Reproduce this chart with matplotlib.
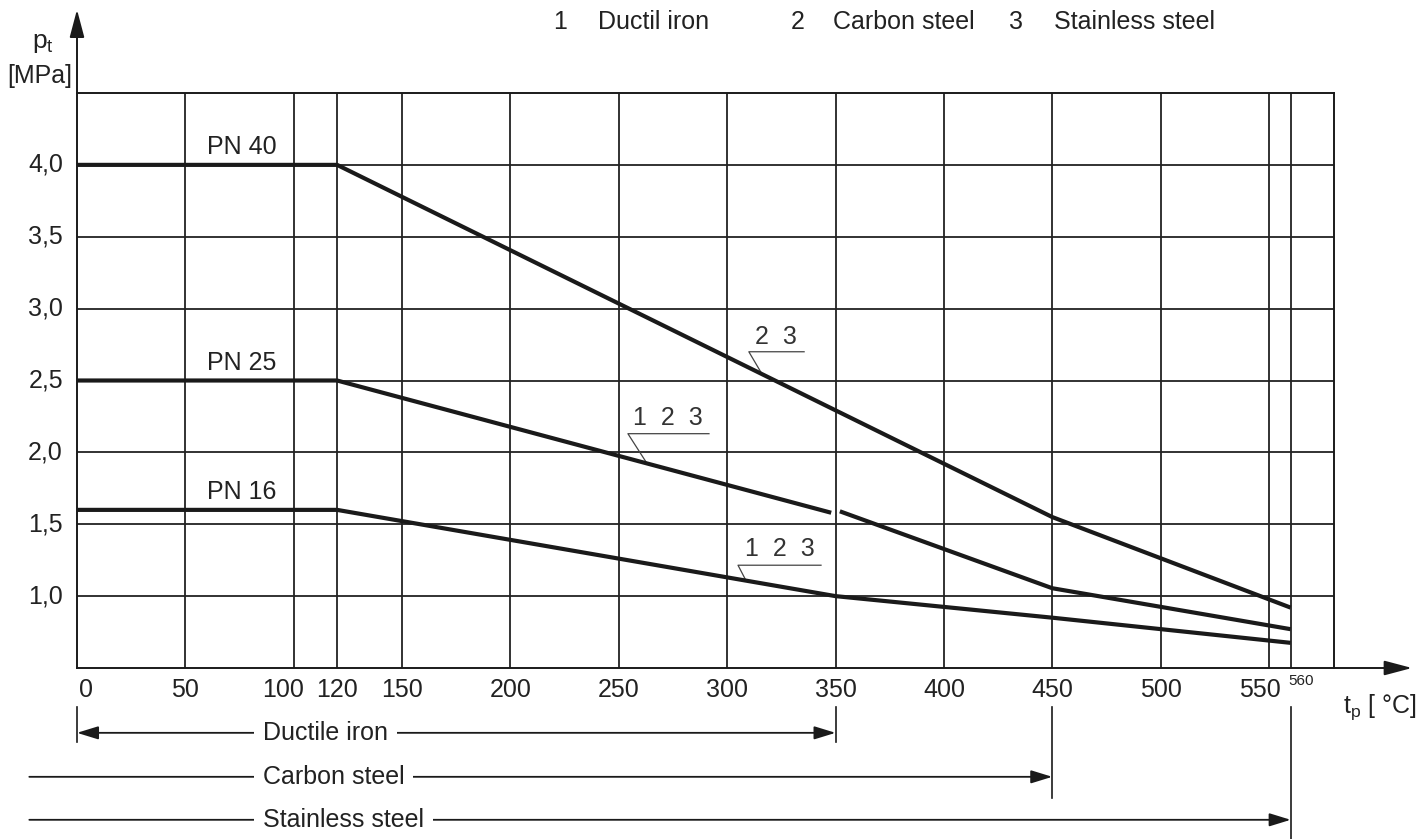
import numpy as np
import matplotlib.pyplot as plt

plt.rcParams['font.family'] = ['Liberation Sans Narrow', 'Liberation Sans', 'DejaVu Sans']
plt.rcParams['mathtext.fontset'] = 'custom'
plt.rcParams['mathtext.rm'] = 'Liberation Sans'
plt.rcParams['mathtext.it'] = 'Liberation Sans'

# pressure / temperature curves
pn40_t = [0, 120, 450, 560]
pn40_p = [4.0, 4.0, 1.55, 0.92]
pn25_t_a = [0, 120, 348]
pn25_p_a = [2.5, 2.5, 1.58]
pn25_t_b = [352, 450, 560]
pn25_p_b = [1.59, 1.055, 0.77]
pn16_t = [0, 120, 350, 450, 560]
pn16_p = [1.6, 1.6, 1.0, 0.85, 0.675]
pn_names = ["PN 40", "PN 25", "PN 16"]
pn_levels = [4.0, 2.5, 1.6]

x_grid = [50, 100, 120, 150, 200, 250, 300, 350, 400, 450, 500, 550, 560]
x_ticks = [0, 50, 100, 120, 150, 200, 250, 300, 350, 400, 450, 500, 550]
y_ticks = [1.0, 1.5, 2.0, 2.5, 3.0, 3.5, 4.0]
y_labels = ["1,0", "1,5", "2,0", "2,5", "3,0", "3,5", "4,0"]

mat_nums = ["1", "2", "3"]
mat_names = ["Ductil iron", "Carbon steel", "Stainless steel"]

range_names = ["Ductile iron", "Carbon steel", "Stainless steel"]
range_end = [350, 450, 560]

W, H = 1426, 839
fig = plt.figure(figsize=(W / 100, H / 100), dpi=100)
ax = fig.add_axes([77 / W, (H - 668) / H, 1257 / W, 575 / H])
ax.set_xlim(0, 580)
ax.set_ylim(0.5, 4.5)
ax.set_xticks([])
ax.set_yticks([])
for s in ax.spines.values():
    s.set_linewidth(1.4)
    s.set_color('#1a1a1a')

gc = '#222222'
for xv in x_grid:
    ax.axvline(xv, color=gc, lw=1.3, zorder=1)
for yv in y_ticks:
    ax.axhline(yv, color=gc, lw=1.3, zorder=1)

lc = '#1a1a1a'
ax.plot(pn40_t, pn40_p, color=lc, lw=3, zorder=3, solid_capstyle='butt')
ax.plot(pn25_t_a, pn25_p_a, color=lc, lw=3, zorder=3, solid_capstyle='butt')
ax.plot(pn25_t_b, pn25_p_b, color=lc, lw=3, zorder=3, solid_capstyle='butt')
ax.plot(pn16_t, pn16_p, color=lc, lw=3, zorder=3, solid_capstyle='butt')

fs = 18
for name, lev in zip(pn_names, pn_levels):
    ax.text(76, lev + 0.04, name, ha='center', va='bottom', fontsize=fs, color='#222')

# axis arrows
ax.annotate('', xy=(0, 5.08), xytext=(0, 4.5), annotation_clip=False,
            arrowprops=dict(arrowstyle='-|>,head_length=1.7,head_width=0.45', color=lc, lw=1.4,
                            shrinkA=0, shrinkB=0))
ax.annotate('', xy=(616, 0.5), xytext=(580, 0.5), annotation_clip=False,
            arrowprops=dict(arrowstyle='-|>,head_length=1.7,head_width=0.45', color=lc, lw=1.4,
                            shrinkA=0, shrinkB=0))

# tick labels
x_shift = {0: 4, 100: -5, 550: -4}
for xv in x_ticks:
    ax.text(xv + x_shift.get(xv, 0), 0.43, str(xv), ha='center', va='top', fontsize=fs, color='#222')
ax.text(565, 0.41, "560", ha='center', va='center', fontsize=11, color='#222')
for yv, lab in zip(y_ticks, y_labels):
    ax.text(-6.5, yv, lab, ha='right', va='center', fontsize=fs, color='#222')

ax.text(-20.8, 4.81, r"p$_{\mathrm{t}}$", ha='left', va='baseline', fontsize=19, color='#222')
ax.text(-2.3, 4.57, "[MPa]", ha='right', va='baseline', fontsize=fs, color='#222')
ax.text(584, 0.19, r"t$_{\mathrm{p}}$ [ °C]", ha='left', va='baseline', fontsize=fs, color='#222')

# leader labels on curves
leaders = [("2  3", 322.5, 2.80, 310, 335.5, 2.70, 316.1, pn40_t, pn40_p),
           ("1  2  3", 272.7, 2.24, 254.2, 291.6, 2.13, 263.0, pn25_t_a, pn25_p_a),
           ("1  2  3", 324.4, 1.33, 305.0, 343.3, 1.215, 308.7, pn16_t, pn16_p)]
for txt, tx, ty, u0, u1, uy, lx, ct, cp in leaders:
    ax.text(tx, ty, txt, ha='center', va='center', fontsize=18, color='#333',
            family=['Liberation Sans', 'DejaVu Sans'])
    ax.plot([u1, u0, lx], [uy, uy, np.interp(lx, ct, cp)], color='#444', lw=0.9, zorder=2)

# material ranges under the axis
row_y = [0.049, -0.257, -0.556]
for i, (name, end, ry) in enumerate(zip(range_names, range_end, row_y)):
    style = '<|-|>' if i == 0 else '-|>'
    start = 0 if i == 0 else -22
    ax.annotate('', xy=(end, ry), xytext=(start, ry), annotation_clip=False,
                arrowprops=dict(arrowstyle=style + ',head_length=1.3,head_width=0.4', color=lc,
                                lw=1.3, shrinkA=0, shrinkB=0))
    ax.text(85.8, ry, name, ha='left', va='center', fontsize=fs, color='#222', zorder=5,
            bbox=dict(boxstyle='square,pad=0.35', fc='white', ec='none'))

mark_x = [0, 350, 450, 560]
mark_bot = [-0.014, -0.014, -0.403, -0.69]
for mx, mb in zip(mark_x, mark_bot):
    ax.plot([mx, mx], [0.229, mb], color=lc, lw=1.2, clip_on=False)

# material key at the top
num_x = [560, 798, 1016]
name_x = [598, 833, 1054]
for n, nx, name, tx in zip(mat_nums, num_x, mat_names, name_x):
    fig.text(nx / W, 1 - 22 / H, n, ha='center', va='center', fontsize=fs, color='#222',
             family=['Liberation Sans', 'DejaVu Sans'])
    fig.text(tx / W, 1 - 22 / H, name, ha='left', va='center', fontsize=fs, color='#222')

fig.savefig('out.png', dpi=100)
